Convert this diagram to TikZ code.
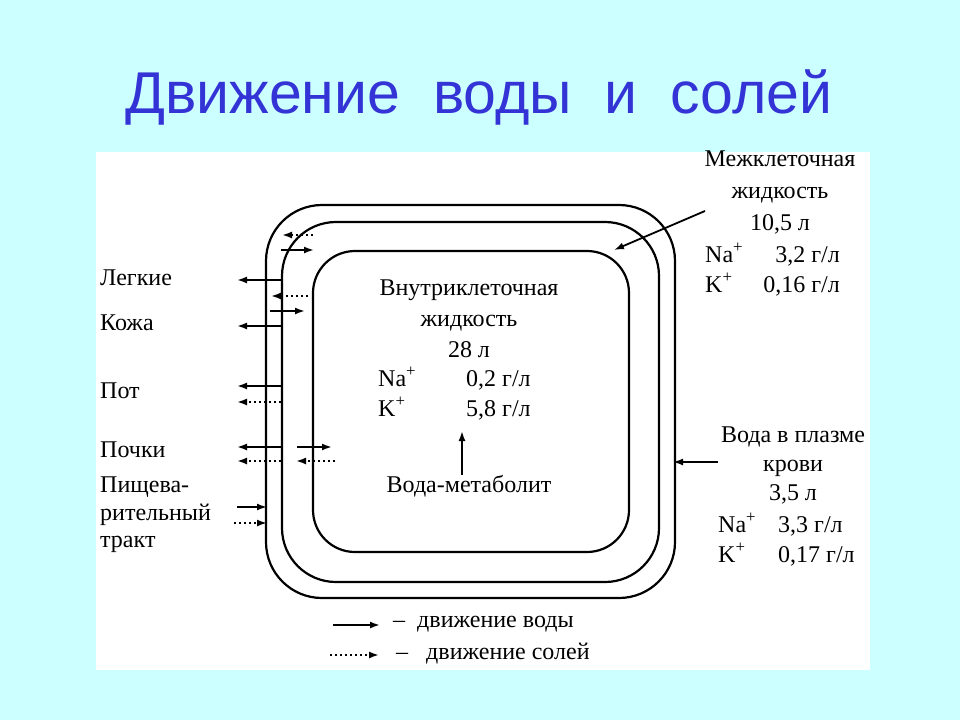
\documentclass[tikz,border=0pt]{standalone}
\usepackage{fontspec}
\setmainfont{Liberation Serif}
\newfontfamily\titlefont{Liberation Sans}
\usetikzlibrary{positioning,arrows.meta}
\definecolor{bgcyan}{RGB}{204,255,255}
\definecolor{titleblue}{RGB}{51,51,214}
\tikzstyle{txt}=[inner sep=0pt,font=\fontsize{24}{31}\selectfont]
\tikzstyle{water}=[draw,line width=1.8pt,-{Latex[length=10pt,width=7pt]}]
\tikzstyle{salt}=[draw,line width=1.8pt,dash pattern=on 2pt off 3pt,-{Latex[length=10pt,width=7pt]}]
\tikzstyle{wall}=[draw,line width=2.2pt]

\begin{document}
\begin{tikzpicture}[x=1pt,y=-1pt]
  \useasboundingbox (0,0) rectangle (960,720);
  \fill[bgcyan] (0,0) rectangle (960,720);
  \fill[white] (96,152) rectangle (870,670);
  \node[inner sep=0pt,text=titleblue,font=\titlefont\fontsize{59}{62}\selectfont] (title) at (479,97) {Движение\ \ воды\ \ и\ \ солей};
  % compartments
  \path[wall,rounded corners=56pt] (266,205) rectangle (675,598);
  \path[wall,rounded corners=54pt] (282,222) rectangle (659,582);
  \path[wall,rounded corners=42pt] (313,251) rectangle (629,552);
  % left labels
  \node[txt,anchor=west] (lungs) at (100,278) {Легкие};
  \node[txt,anchor=west] (skin) at (100,323) {Кожа};
  \node[txt,anchor=west] (sweat) at (100,391) {Пот};
  \node[txt,anchor=west] (kidney) at (100,450) {Почки};
  \node[txt,anchor=west,align=left,font=\fontsize{24}{27.5}\selectfont] (gut) at (100,515) {Пищева-\\рительный\\тракт};
  % intracellular
  \node[txt,align=center] (intra) at (469,319) {Внутриклеточная\\жидкость\\28 л};
  \node[txt,anchor=base west] (intraNa) at (378,386) {Na\textsuperscript{+}};
  \node[txt,anchor=base west] (intraNav) at (466,386) {0,2 г/л};
  \node[txt,anchor=base west] (intraK) at (378,416) {K\textsuperscript{+}};
  \node[txt,anchor=base west] (intraKv) at (466,416) {5,8 г/л};
  \node[txt] (metab) at (469,486) {Вода-метаболит};
  % interstitial
  \node[txt,align=center,font=\fontsize{24}{32}\selectfont] (inter) at (780,192) {Межклеточная\\жидкость\\10,5 л};
  \node[txt,anchor=base west] (interNa) at (705,262) {Na\textsuperscript{+}};
  \node[txt,anchor=base east] (interNav) at (840,262) {3,2 г/л};
  \node[txt,anchor=base west] (interK) at (705,292) {K\textsuperscript{+}};
  \node[txt,anchor=base east] (interKv) at (840,292) {0,16 г/л};
  % plasma
  \node[txt,align=center,font=\fontsize{24}{29}\selectfont] (plasma) at (793,465) {Вода в плазме\\крови\\3,5 л};
  \node[txt,anchor=base west] (plasmaNa) at (718,532) {Na\textsuperscript{+}};
  \node[txt,anchor=base west] (plasmaNav) at (778,532) {3,3 г/л};
  \node[txt,anchor=base west] (plasmaK) at (718,562) {K\textsuperscript{+}};
  \node[txt,anchor=base west] (plasmaKv) at (778,562) {0,17 г/л};
  % legend
  \node[txt,anchor=west] (lgwater) at (393,624) {–\ \ движение воды};
  \node[txt,anchor=west] (lgsalt) at (396,654) {–\ \ \ движение солей};
  % arrow ends
  \coordinate (a1) at (281,280); \coordinate (a2) at (237,280);
  \coordinate (b1) at (281,326); \coordinate (b2) at (237,326);
  \coordinate (c1) at (308,296); \coordinate (c2) at (271,296);
  \coordinate (d1) at (270,311); \coordinate (d2) at (305,311);
  \coordinate (e1) at (313,235); \coordinate (e2) at (282,235);
  \coordinate (f1) at (281,250); \coordinate (f2) at (314,250);
  \coordinate (g1) at (281,386); \coordinate (g2) at (237,386);
  \coordinate (h1) at (281,402); \coordinate (h2) at (237,402);
  \coordinate (i1) at (281,447); \coordinate (i2) at (237,447);
  \coordinate (j1) at (281,461); \coordinate (j2) at (237,461);
  \coordinate (k1) at (297,447); \coordinate (k2) at (332,447);
  \coordinate (l1) at (335,461); \coordinate (l2) at (296,461);
  \coordinate (m1) at (237,507); \coordinate (m2) at (267,507);
  \coordinate (n1) at (234,523); \coordinate (n2) at (267,523);
  \coordinate (o1) at (705,211); \coordinate (o2) at (614,250);
  \coordinate (p1) at (718,462); \coordinate (p2) at (673,462);
  \coordinate (q1) at (462,475); \coordinate (q2) at (462,431);
  \coordinate (r1) at (333,625); \coordinate (r2) at (380,625);
  \coordinate (s1) at (330,655); \coordinate (s2) at (379,655);
  % water
  \path[water] (a1) -- (a2);
  \path[water] (b1) -- (b2);
  \path[water] (d1) -- (d2);
  \path[water] (f1) -- (f2);
  \path[water] (g1) -- (g2);
  \path[water] (i1) -- (i2);
  \path[water] (k1) -- (k2);
  \path[water] (m1) -- (m2);
  \path[water] (o1) -- (o2);
  \path[water] (p1) -- (p2);
  \path[water] (q1) -- (q2);
  \path[water] (r1) -- (r2);
  % salts
  \path[salt] (c1) -- (c2);
  \path[salt] (e1) -- (e2);
  \path[salt] (h1) -- (h2);
  \path[salt] (j1) -- (j2);
  \path[salt] (l1) -- (l2);
  \path[salt] (n1) -- (n2);
  \path[salt] (s1) -- (s2);
\end{tikzpicture}
\end{document}
